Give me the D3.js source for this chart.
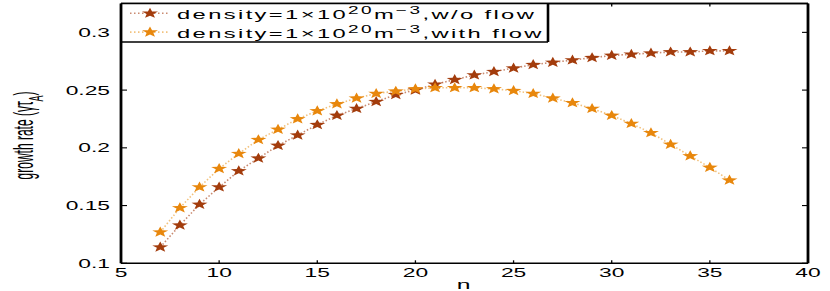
<!DOCTYPE html>
<html lang="en">
<head>
  <meta charset="UTF-8" />
  <title>Growth rate vs n</title>
  <script src="https://d3js.org/d3.v7.min.js"></script>
  <style>
    body { margin: 0; background: #fff; }
    svg { display: block; font-family: 'Liberation Sans', Arial, sans-serif; }
  </style>
</head>
<body>
  <svg id="chart" width="830" height="291"></svg>

  <script>
    // mode numbers and growth rates
    const nValues = [7, 8, 9, 10, 11, 12, 13, 14, 15, 16, 17, 18, 19, 20, 21,
                     22, 23, 24, 25, 26, 27, 28, 29, 30, 31, 32, 33, 34, 35, 36];
    const rateNoFlow = [0.114, 0.133, 0.151, 0.166, 0.180, 0.191, 0.202, 0.211, 0.220, 0.228,
                        0.234, 0.240, 0.246, 0.250, 0.255, 0.259, 0.263, 0.266, 0.269, 0.272,
                        0.274, 0.276, 0.278, 0.280, 0.281, 0.282, 0.283, 0.283, 0.284, 0.284];
    const rateWithFlow = [0.127, 0.148, 0.166, 0.182, 0.195, 0.207, 0.216, 0.225, 0.232, 0.238,
                          0.243, 0.247, 0.249, 0.251, 0.252, 0.252, 0.252, 0.251, 0.2495, 0.247,
                          0.243, 0.239, 0.234, 0.228, 0.221, 0.213, 0.203, 0.193, 0.183, 0.172];
    const xTicks = [5, 10, 15, 20, 25, 30, 35, 40];
    const yTicks = [0.1, 0.15, 0.2, 0.25, 0.3];
    const yTickLabels = ["0.1", "0.15", "0.2", "0.25", "0.3"];

    const series = [
      { values: rateNoFlow, color: "#a33c0c", line: "#c98a70", tail: ",w/o flow" },
      { values: rateWithFlow, color: "#e8870c", line: "#f2c27e", tail: ",with flow" }
    ];

    const W = 830, H = 291;
    const margin = { top: 3.5, right: 22, bottom: 27.7, left: 121 };
    const SX = 1.9; // the original figure is stretched sideways

    const svg = d3.select('#chart');

    const x = d3.scaleLinear().domain([5, 40]).range([margin.left, W - margin.right]);
    const y = d3.scaleLinear().domain([0.1, 0.325]).range([H - margin.bottom, margin.top]);

    // five-point star, wider than tall like the stretched markers
    function starPath(r) {
      const pts = [];
      for (let i = 0; i < 10; i++) {
        const rad = i % 2 === 0 ? r : r * 0.42;
        const a = -Math.PI / 2 + i * Math.PI / 5;
        pts.push([Math.cos(a) * rad * 1.5, Math.sin(a) * rad]);
      }
      return "M" + pts.map(p => p.join(",")).join("L") + "Z";
    }
    const star = starPath(5.6);

    function sText(g, px, py, anchor, size) {
      return g.append("text")
        .attr("transform", `translate(${px},${py}) scale(${SX},1)`)
        .attr("text-anchor", anchor)
        .attr("font-size", size)
        .attr("fill", "#000");
    }

    // series: dotted connecting line + star markers
    const line = d3.line().x((d, i) => x(nValues[i])).y(d => y(d));
    series.forEach(s => {
      svg.append("path")
        .attr("d", line(s.values))
        .attr("fill", "none")
        .attr("stroke", s.line)
        .attr("stroke-width", 1.6)
        .attr("stroke-dasharray", "1.5 2");
    });
    series.forEach(s => {
      svg.append("g").selectAll("path")
        .data(s.values)
        .join("path")
        .attr("d", star)
        .attr("transform", (d, i) => `translate(${x(nValues[i])},${y(d)})`)
        .attr("fill", s.color);
    });

    // axes box
    const x0 = x.range()[0], x1 = x.range()[1], y0 = y.range()[0], y1 = y.range()[1];
    const axes = svg.append("g").attr("stroke", "#000");
    axes.append("line").attr("x1", x0).attr("x2", x1).attr("y1", y0).attr("y2", y0).attr("stroke-width", 1.6);
    axes.append("line").attr("x1", x0).attr("x2", x1).attr("y1", y1).attr("y2", y1).attr("stroke-width", 1.3);
    axes.append("line").attr("x1", x1).attr("x2", x1).attr("y1", y1).attr("y2", y0).attr("stroke-width", 2.8);

    xTicks.forEach(t => {
      axes.append("line").attr("x1", x(t)).attr("x2", x(t)).attr("y1", y0).attr("y2", y0 - 3).attr("stroke-width", 1.3);
      axes.append("line").attr("x1", x(t)).attr("x2", x(t)).attr("y1", y1).attr("y2", y1 + 3).attr("stroke-width", 1.3);
      sText(svg, x(t), y0 + 14, "middle", 12).text(t);
    });
    yTicks.forEach((t, i) => {
      axes.append("line").attr("x1", x0).attr("x2", x0 + 6).attr("y1", y(t)).attr("y2", y(t)).attr("stroke-width", 1.1);
      axes.append("line").attr("x1", x1).attr("x2", x1 - 6).attr("y1", y(t)).attr("y2", y(t)).attr("stroke-width", 1.1);
      sText(svg, x0 - 11, y(t) + 4.5, "end", 12).text(yTickLabels[i]);
    });

    // axis titles
    sText(svg, (x0 + x1) / 2 - 1, H - 2, "middle", 13).text("n");
    const yl = svg.append("text")
      .attr("transform", `translate(33,${(y0 + y1) / 2 + 2}) rotate(-90) scale(1,2.3)`)
      .attr("text-anchor", "middle")
      .attr("font-size", 12);
    yl.append("tspan").text("growth rate (γτ");
    yl.append("tspan").attr("font-size", 9).attr("dy", 4.5).text("A");
    yl.append("tspan").attr("dy", -4.5).text(")");

    // legend
    const leg = svg.append("g");
    leg.append("rect").attr("x", x0).attr("y", y1).attr("width", 548 - x0).attr("height", 42 - y1)
      .attr("fill", "#fff").attr("stroke", "none");
    leg.append("line").attr("x1", x0).attr("x2", 548).attr("y1", 42).attr("y2", 42).attr("stroke", "#000").attr("stroke-width", 1.3);
    leg.append("line").attr("x1", 548).attr("x2", 548).attr("y1", y1).attr("y2", 42).attr("stroke", "#000").attr("stroke-width", 2.6);
    series.forEach((s, i) => {
      const ly = 13.3 + i * 18.8;
      leg.append("line").attr("x1", 130).attr("x2", 170).attr("y1", ly).attr("y2", ly)
        .attr("stroke", s.line).attr("stroke-width", 1.6).attr("stroke-dasharray", "1.5 2.5");
      leg.append("path").attr("d", star).attr("transform", `translate(150,${ly})`).attr("fill", s.color);
      const t = sText(leg, 177, ly + 5.5, "start", 12.5).attr("letter-spacing", 1.25);
      t.append("tspan").text("density=1×10");
      t.append("tspan").attr("font-size", 10).attr("dy", -5).text("20");
      t.append("tspan").attr("dy", 5).text("m");
      t.append("tspan").attr("font-size", 10).attr("dy", -5).text("−3");
      t.append("tspan").attr("dy", 5).text(s.tail);
    });
    // left axis and top edge drawn over the legend
    svg.append("line").attr("x1", x0).attr("x2", x0).attr("y1", y1).attr("y2", y0).attr("stroke", "#000").attr("stroke-width", 2.8);
    svg.append("line").attr("x1", x0).attr("x2", x1).attr("y1", y1).attr("y2", y1).attr("stroke", "#000").attr("stroke-width", 1.3);
  </script>
</body>
</html>
